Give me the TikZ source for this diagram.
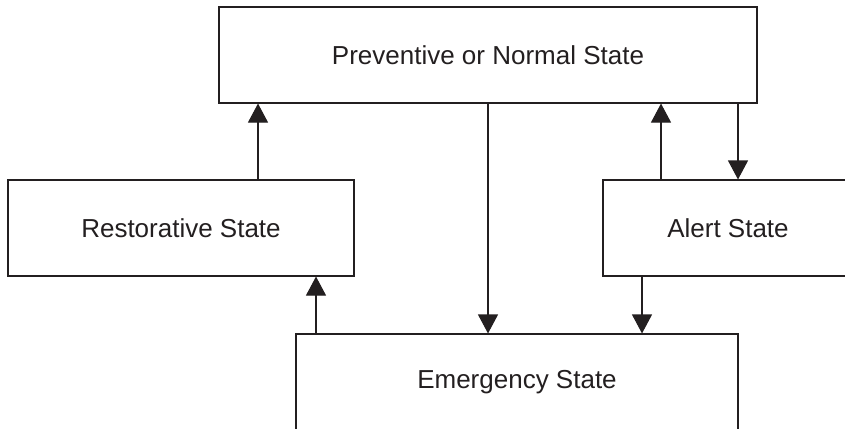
\documentclass[tikz,border=0pt]{standalone}
\usepackage{fontspec}
\setmainfont{Liberation Sans}
\usetikzlibrary{arrows.meta,positioning,calc}
\definecolor{ink}{RGB}{35,31,32}
\tikzset{
  sbox/.style={rectangle, draw=ink, line width=1.1pt, minimum height=96pt,
               align=center, font=\fontsize{26}{30}\selectfont, text=ink},
  arr/.style={-{Triangle[length=19pt,width=20pt]}, line width=1.1pt, color=ink},
}
\begin{document}
\begin{tikzpicture}[x=1pt, y=1pt]
    \clip (0,0) rectangle (845,-428);
    \node[sbox, minimum width=538pt] (norm)  at (488,-55)  {Preventive or Normal State};
    \node[sbox, minimum width=346pt] (rest)  at (181,-228) {Restorative State};
    \node[sbox, minimum width=250pt] (alert) at (728,-228) {Alert State};
    \node[sbox, minimum width=442pt] (emerg) at (517,-382) {Emergency State};
    % state transitions
    \draw[arr] ([xshift=77pt]rest.north) -- ([xshift=77pt]rest.north |- norm.south);
    \draw[arr] (norm.south) -- (norm.south |- emerg.north);
    \draw[arr] ([xshift=-67pt]alert.north) -- ([xshift=-67pt]alert.north |- norm.south);
    \draw[arr] ([xshift=10pt]alert.north |- norm.south) -- ([xshift=10pt]alert.north);
    \draw[arr] ([xshift=-86pt]alert.south) -- ([xshift=-86pt]alert.south |- emerg.north);
    \draw[arr] ([xshift=-201pt]emerg.north) -- ([xshift=-201pt]emerg.north |- rest.south);
\end{tikzpicture}
\end{document}
